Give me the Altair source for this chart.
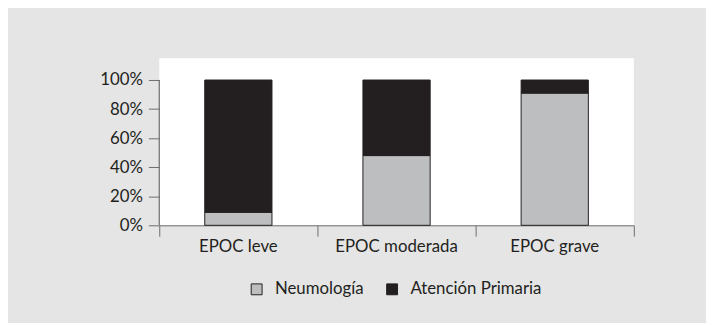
import altair as alt
import pandas as pd

categories = ["EPOC leve", "EPOC moderada", "EPOC grave"]
series = ["Neumología", "Atención Primaria"]
neumologia = [0.09, 0.48, 0.91]
atencion_primaria = [0.91, 0.52, 0.09]
y_ticks = [0, 0.2, 0.4, 0.6, 0.8, 1.0]

rows = []
for i, c in enumerate(categories):
    rows.append({"cat": c, "serie": series[0], "val": neumologia[i], "ord": 0})
    rows.append({"cat": c, "serie": series[1], "val": atencion_primaria[i], "ord": 1})
df = pd.DataFrame(rows)

FONT = "Lato"
TXT = "#231f20"
AX = "#6d6d6d"

ysc = alt.Scale(domain=[0, 1.15], nice=False, zero=True)
yaxis = alt.Axis(values=y_ticks, format=".0%", domain=False, grid=False,
                 labelOverlap=False, labelFlush=False,
                 tickSize=11, tickColor=AX, labelPadding=6,
                 labelFont=FONT, labelFontSize=17, labelColor=TXT)

bars = alt.Chart(df).mark_bar(size=68, stroke="#231f20", strokeWidth=1).encode(
    x=alt.X("cat:N", sort=categories, title=None,
            scale=alt.Scale(paddingInner=0, paddingOuter=0),
            axis=alt.Axis(labelAngle=0, bandPosition=1, tickExtra=True, tickSize=11,
                          labelPadding=2, domainColor=AX, tickColor=AX,
                          labelFont=FONT, labelFontSize=17, labelColor=TXT)),
    y=alt.Y("val:Q", stack="zero", scale=ysc, title=None, axis=yaxis),
    color=alt.Color("serie:N", title=None,
                    scale=alt.Scale(domain=series, range=["#bcbec0", "#231f20"]),
                    legend=alt.Legend(orient="none", direction="horizontal",
                                      legendX=90, legendY=225,
                                      symbolType="square", symbolSize=121,
                                      symbolStrokeColor="#231f20", symbolStrokeWidth=1,
                                      labelFont=FONT, labelFontSize=17, labelColor=TXT,
                                      labelOffset=10, columnPadding=20)),
    order=alt.Order("ord:Q", sort="ascending"),
)

axis_line = alt.Chart(pd.DataFrame({"a": [0.0], "b": [1.0]})).mark_rule(
    color=AX, strokeWidth=1.2
).encode(
    x=alt.value(0),
    y=alt.Y("a:Q", scale=ysc, title=None, axis=yaxis),
    y2=alt.Y2("b:Q"),
)

chart = alt.layer(bars, axis_line).properties(
    width=480, height=169,
    autosize=alt.AutoSizeParams(type="none"),
    padding={"left": 153, "top": 49, "right": 73, "bottom": 97},
    background="#e5e5e5",
).configure_view(fill="white", stroke=None)

chart.save("out.html", embed_options={"renderer": "svg", "actions": False})
